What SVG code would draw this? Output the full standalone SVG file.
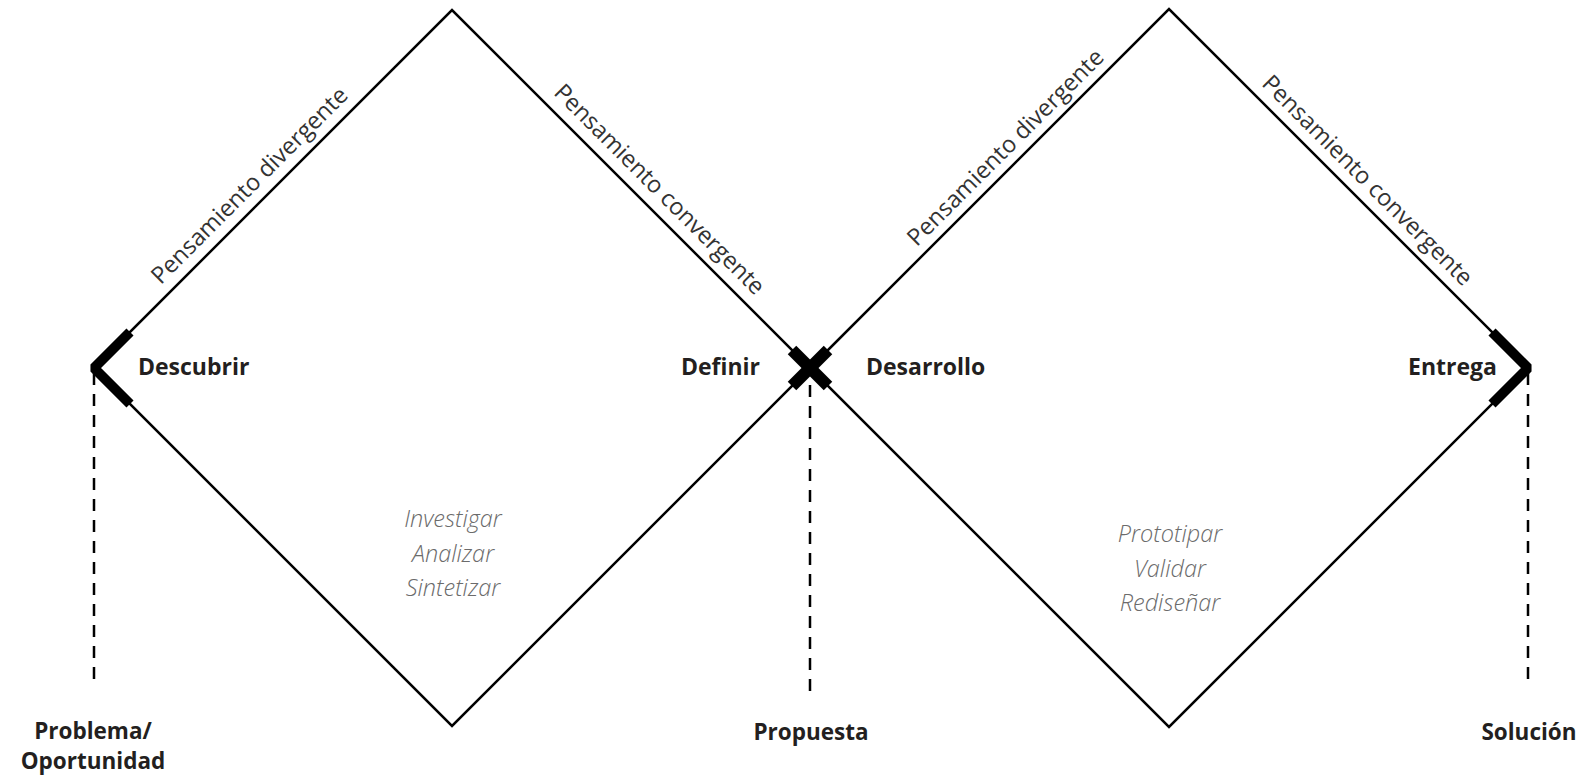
<svg xmlns="http://www.w3.org/2000/svg" width="1593" height="775" viewBox="0 0 1593 775">
  <style>
    .edge { fill: none; stroke: #000; stroke-width: 2.5; }
    .thick { fill: none; stroke: #000; stroke-width: 10; stroke-linejoin: bevel; }
    .xmark { fill: none; stroke: #000; stroke-width: 12; }
    .dash { fill: none; stroke: #000; stroke-width: 2.5; stroke-dasharray: 12 9; }
    .phase { font-family: "Open Sans", "Noto Sans", sans-serif; font-weight: bold; font-size: 23px; fill: #231f20; }
    .milestone { font-family: "Open Sans", "Noto Sans", sans-serif; font-weight: bold; font-size: 22.5px; fill: #231f20; text-anchor: middle; }
    .edge-label { font-family: "Open Sans", "Noto Sans", sans-serif; font-size: 23.5px; fill: #333; text-anchor: middle; }
    .task { font-family: "Open Sans", "Noto Sans", sans-serif; font-style: italic; font-weight: 300; font-size: 23.5px; fill: #6b6b6b; text-anchor: middle; }
  </style>
  <rect width="1593" height="775" fill="#fff"/>

  <g id="connectors">
    <polygon class="edge" points="94,368 452,10 810,368 452,726"/>
    <polygon class="edge" points="810,368 1169,9 1528,368 1169,727"/>
    <line class="dash" x1="94" y1="373" x2="94" y2="683"/>
    <line class="dash" x1="810" y1="385" x2="810" y2="699"/>
    <line class="dash" x1="1528" y1="373" x2="1528" y2="683"/>
  </g>

  <g id="marker-start">
    <polyline class="thick" points="130,332 94,368 130,404"/>
  </g>
  <g id="marker-middle">
    <line class="xmark" x1="792" y1="350" x2="828" y2="386"/>
    <line class="xmark" x1="828" y1="350" x2="792" y2="386"/>
  </g>
  <g id="marker-end">
    <polyline class="thick" points="1492,332 1528,368 1492,404"/>
  </g>

  <g id="diamond-1-labels">
    <text class="edge-label" transform="translate(255,191) rotate(-45)">Pensamiento divergente</text>
    <text class="edge-label" transform="translate(654,195) rotate(45)">Pensamiento convergente</text>
    <text class="phase" x="138" y="375">Descubrir</text>
    <text class="phase" x="760" y="375" text-anchor="end">Definir</text>
    <text class="task" x="453" y="527">Investigar</text>
    <text class="task" x="453" y="562">Analizar</text>
    <text class="task" x="453" y="596">Sintetizar</text>
  </g>

  <g id="diamond-2-labels">
    <text class="edge-label" transform="translate(1011,153) rotate(-45)">Pensamiento divergente</text>
    <text class="edge-label" transform="translate(1362,186) rotate(45)">Pensamiento convergente</text>
    <text class="phase" x="866" y="375">Desarrollo</text>
    <text class="phase" x="1497" y="375" text-anchor="end">Entrega</text>
    <text class="task" x="1170" y="542">Prototipar</text>
    <text class="task" x="1170" y="577">Validar</text>
    <text class="task" x="1170" y="611">Rediseñar</text>
  </g>

  <g id="milestone-problema">
    <text class="milestone" x="93" y="739">Problema/</text>
    <text class="milestone" x="93" y="769">Oportunidad</text>
  </g>
  <g id="milestone-propuesta">
    <text class="milestone" x="811" y="740">Propuesta</text>
  </g>
  <g id="milestone-solucion">
    <text class="milestone" x="1529" y="740">Solución</text>
  </g>
</svg>
